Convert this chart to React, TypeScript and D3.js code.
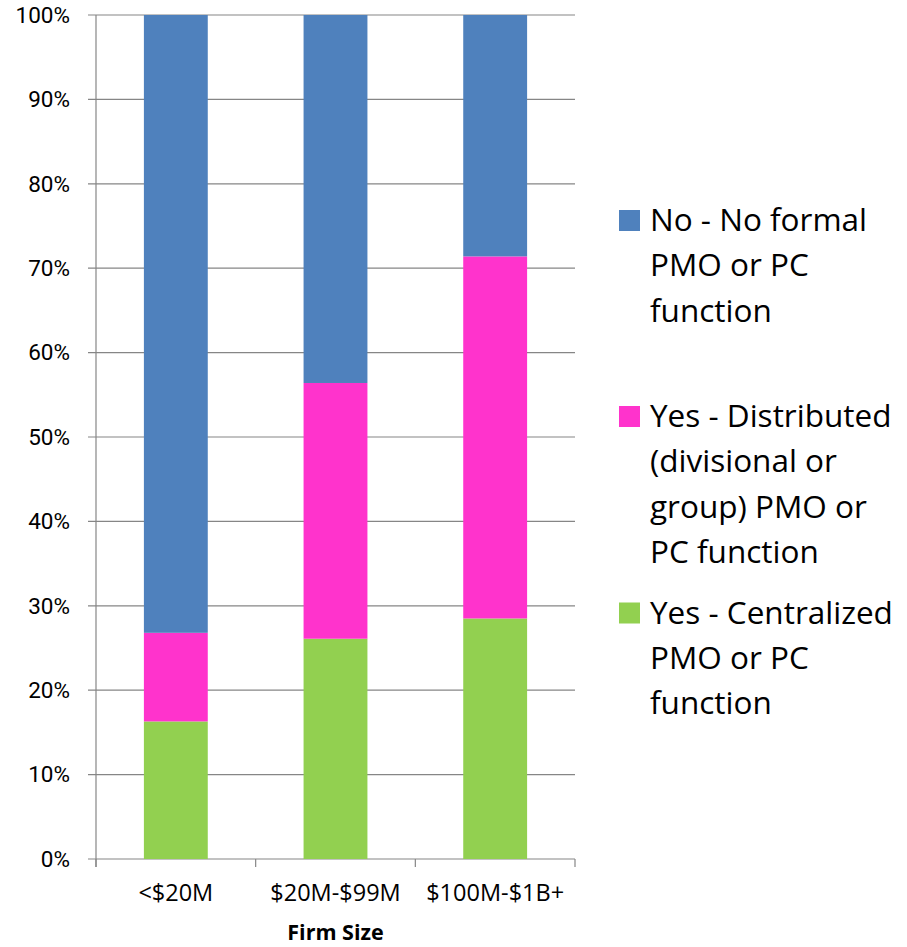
import React from 'react';
import * as d3 from 'd3';

// chart values (percent of firms)
const categories = ['<$20M', '$20M-$99M', '$100M-$1B+'];
const centralized = [16.3, 26.1, 28.5];
const distributed = [10.5, 30.3, 42.9];
const noFormal = [73.2, 43.6, 28.6];
const yTicks = [0, 10, 20, 30, 40, 50, 60, 70, 80, 90, 100];

const seriesKeys = ['centralized', 'distributed', 'noFormal'];
const seriesColors: Record<string, string> = {
    centralized: '#92D050',
    distributed: '#FF33CC',
    noFormal: '#4F81BD',
};
// legend goes top to bottom in reverse stack order
const legendItems = [
    { key: 'noFormal', lines: ['No - No formal', 'PMO or PC', 'function'] },
    { key: 'distributed', lines: ['Yes - Distributed', '(divisional or', 'group) PMO or', 'PC function'] },
    { key: 'centralized', lines: ['Yes - Centralized', 'PMO or PC', 'function'] },
];

const W = 907;
const H = 947;
const plot = { left: 96, right: 575, top: 15, bottom: 859 };
const font = '"Open Sans", "Noto Sans", sans-serif';
const tickFont = 'Roboto, "Open Sans", sans-serif';
const gridColor = '#868686';

export default function App() {
    const rows = categories.map((c, i) => ({
        category: c,
        centralized: centralized[i],
        distributed: distributed[i],
        noFormal: noFormal[i],
    }));

    const x = d3.scaleBand<string>()
        .domain(categories)
        .range([plot.left, plot.right])
        .paddingInner(0.6)
        .paddingOuter(0.3);

    // boundaries between categories for the x tick marks
    const step = (plot.right - plot.left) / categories.length;
    const xBounds = d3.range(categories.length + 1).map(i => plot.left + i * step);

    const y = d3.scaleLinear().domain([0, 100]).range([plot.bottom, plot.top]);

    const stacked = d3.stack<any>().keys(seriesKeys)(rows);

    const lineGap = 45.4;
    const legendStarts = [231, 427, 623.5];

    return (
        <svg width={W} height={H} style={{ position: 'absolute', left: 0, top: 0, background: '#fff' }}>
            {/* gridlines */}
            {yTicks.map(t => (
                <g key={t}>
                    <line x1={plot.left - 8} x2={plot.right} y1={y(t)} y2={y(t)} stroke={gridColor} strokeWidth={1.2} />
                    <text x={70} y={y(t) + 7.7} textAnchor="end" fontFamily={tickFont} fontSize={22.5} fill="#000">
                        {t}%
                    </text>
                </g>
            ))}
            {/* axis lines */}
            <line x1={plot.left} x2={plot.left} y1={plot.top} y2={plot.bottom + 8} stroke={gridColor} strokeWidth={1.2} />
            {xBounds.map((b, i) => (
                <line key={i} x1={b} x2={b} y1={plot.bottom} y2={plot.bottom + 8} stroke={gridColor} strokeWidth={1.2} />
            ))}

            {/* stacked bars */}
            {stacked.map(s => (
                <g key={s.key} fill={seriesColors[s.key]}>
                    {s.map((d, i) => (
                        <rect
                            key={i}
                            x={x(categories[i])!}
                            width={x.bandwidth()}
                            y={y(d[1])}
                            height={y(d[0]) - y(d[1])}
                        />
                    ))}
                </g>
            ))}

            {/* category labels */}
            {categories.map(c => (
                <text key={c} x={x(c)! + x.bandwidth() / 2} y={901} textAnchor="middle" fontFamily={font} fontSize={23.5} fill="#000">
                    {c}
                </text>
            ))}
            <text x={(plot.left + plot.right) / 2} y={940} textAnchor="middle" fontFamily={font} fontSize={21.5} fontWeight="bold" fill="#000">
                Firm Size
            </text>

            {/* legend */}
            {legendItems.map((item, i) => (
                <g key={item.key}>
                    <rect x={619} y={legendStarts[i] - 21} width={21} height={21} fill={seriesColors[item.key]} />
                    {item.lines.map((ln, j) => (
                        <text key={j} x={650} y={legendStarts[i] + j * lineGap} fontFamily={font} fontSize={31.5} fill="#000">
                            {ln}
                        </text>
                    ))}
                </g>
            ))}
        </svg>
    );
}
